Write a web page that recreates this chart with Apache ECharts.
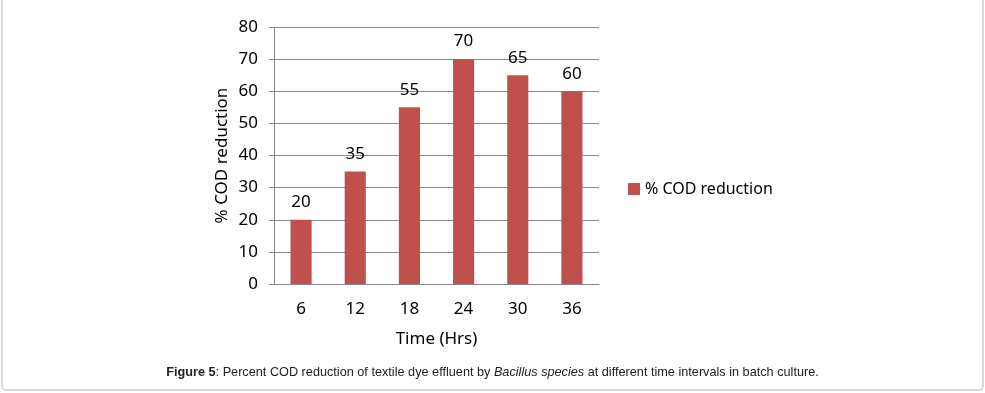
<!DOCTYPE html>
<html>
<head>
<meta charset="utf-8">
<script src="https://cdn.jsdelivr.net/npm/echarts@6/dist/echarts.min.js"></script>
<style>
	html,body{margin:0;padding:0;background:#fff;}
	#chart{width:985px;height:393px;}
</style>
</head>
<body>
<div id="chart"></div>
<script>
	// data
	var hours = ['6', '12', '18', '24', '30', '36'];
	var codReduction = [20, 35, 55, 70, 65, 60];
	var yTicks = {min: 0, max: 80, interval: 10};
	var seriesName = '% COD reduction';

	var chart = echarts.init(document.getElementById('chart'));
	var txt = '#000';
	var font = 'Noto Sans';
	var capSize = 12.7;
	var option = {
		animation: false,
		grid: {left: 274, right: 386, top: 27, bottom: 109},
		legend: {
			data: [seriesName],
			left: 623, top: 176,
			itemWidth: 12, itemHeight: 12, itemGap: 6,
			icon: 'rect',
			textStyle: {color: txt, fontSize: 16, fontFamily: font}
		},
		xAxis: {
			type: 'category',
			data: hours,
			name: 'Time (Hrs)',
			nameLocation: 'middle',
			nameGap: 47,
			nameTextStyle: {color: txt, fontSize: 17, fontFamily: font},
			axisLine: {lineStyle: {color: '#868686'}},
			axisTick: {length: 5, lineStyle: {color: '#868686'}},
			axisLabel: {color: txt, fontSize: 17, fontFamily: font, margin: 17}
		},
		yAxis: {
			type: 'value',
			min: yTicks.min, max: yTicks.max, interval: yTicks.interval,
			name: '% COD reduction',
			nameLocation: 'middle',
			nameGap: 43,
			nameTextStyle: {color: txt, fontSize: 17, fontFamily: font},
			axisLine: {show: true, lineStyle: {color: '#868686'}},
			axisTick: {show: true, length: 5, lineStyle: {color: '#868686'}},
			axisLabel: {color: txt, fontSize: 17, fontFamily: font, margin: 16},
			splitLine: {lineStyle: {color: '#868686'}}
		},
		series: [{
			name: seriesName,
			type: 'bar',
			data: codReduction,
			barWidth: '39%',
			itemStyle: {color: '#C0504D'},
			label: {show: true, position: 'top', distance: 9, color: txt, fontSize: 17, fontFamily: font}
		}],
		graphic: [
			{
				type: 'rect',
				shape: {x: 2, y: -10, width: 981, height: 400, r: 4},
				style: {fill: 'none', stroke: '#cccccc', lineWidth: 1.5},
				silent: true
			},
			{
				type: 'text',
				left: 'center',
				top: 366,
				style: {
					text: '{b|Figure 5}: Percent COD reduction of textile dye effluent by {i|Bacillus species} at different time intervals in batch culture.',
					fontFamily: 'Liberation Sans',
					fontSize: capSize,
					fill: '#222',
					rich: {
						b: {fontWeight: 'bold', fontFamily: 'Liberation Sans', fontSize: capSize, fill: '#222'},
						i: {fontStyle: 'italic', fontFamily: 'Liberation Sans', fontSize: capSize, fill: '#222'}
					}
				}
			}
		]
	};
	chart.setOption(option);
	window.onresize = function() {
		chart.resize();
	};
</script>
</body>
</html>
